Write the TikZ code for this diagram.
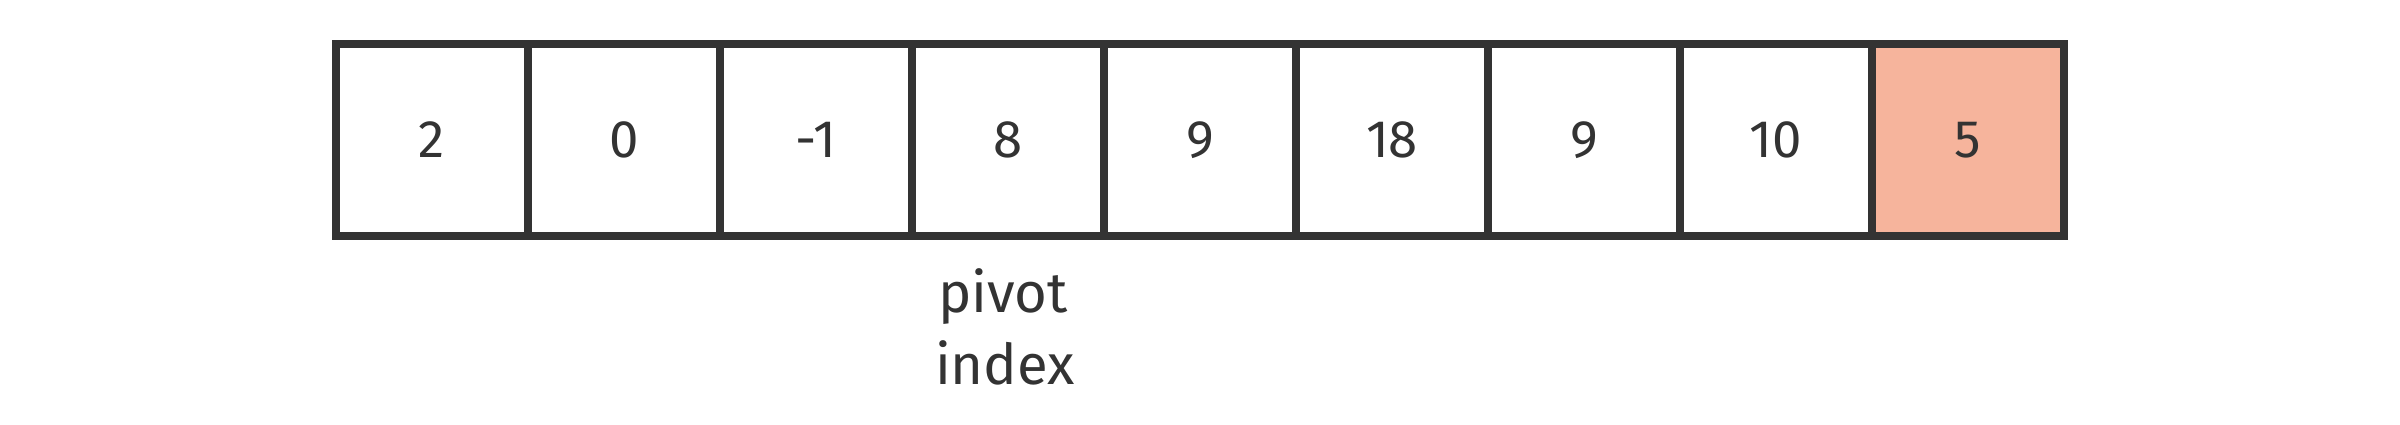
\documentclass[tikz,border=0pt]{standalone}
\usepackage{fontspec}
\setmainfont{Fira Sans}
\definecolor{ink}{HTML}{333333}
\definecolor{salmon}{HTML}{F6B49C}
\begin{document}
\begin{tikzpicture}[x=0.01cm,y=-0.01cm,
  cell/.style={draw=ink,line width=0.8mm,minimum width=19.2mm,minimum height=19.2mm,inner sep=0pt,
    font=\fontsize{15}{18}\selectfont,text=ink},
  hot/.style={cell,fill=salmon},
  lbl/.style={anchor=base,inner sep=0pt,font=\fontsize{16}{20}\selectfont,text=ink}]
\useasboundingbox (0,0) rectangle (2400,424);
\node[cell] (c0) at (432,140) {2};
\node[cell] (c1) at (624,140) {0};
\node[cell] (c2) at (816,140) {-1};
\node[cell] (c3) at (1008,140) {8};
\node[cell] (c4) at (1200,140) {9};
\node[cell] (c5) at (1392,140) {18};
\node[cell] (c6) at (1584,140) {9};
\node[cell] (c7) at (1776,140) {10};
\node[hot] (c8) at (1968,140) {5};
\node[lbl] (pivot) at (1003,312) {pivot};
\node[lbl] (index) at (1005,384) {index};
\end{tikzpicture}
\end{document}
